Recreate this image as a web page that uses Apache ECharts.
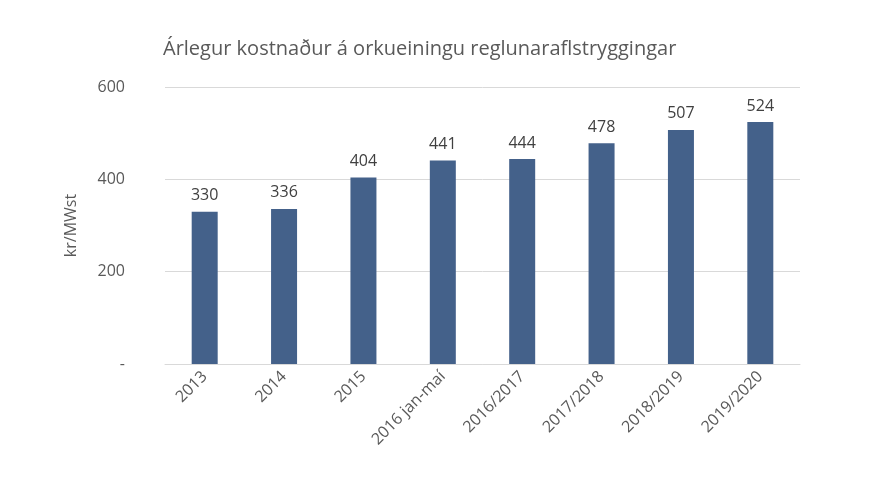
<!DOCTYPE html>
<html><head><meta charset="utf-8">
<script src="https://cdn.jsdelivr.net/npm/echarts@6/dist/echarts.min.js"></script>
<style>html,body{margin:0;padding:0;background:#fff}#c{width:890px;height:503px}</style>
</head><body><div id="c"></div>
<script>
const categories = ["2013","2014","2015","2016 jan-maí","2016/2017","2017/2018","2018/2019","2019/2020"];
const values = [330,336,404,441,444,478,507,524];
const yTicks = [0,200,400,600];
const chart = echarts.init(document.getElementById('c'));
chart.setOption({
  animation:false,
  title:{text:"Árlegur kostnaður á orkueiningu reglunaraflstryggingar",left:158,top:34,
    textStyle:{fontFamily:"Open Sans",fontSize:20,fontWeight:'normal',color:'#595959'}},
  grid:{left:165,right:90,top:87,bottom:139},
  xAxis:{type:'category',data:categories,
    axisLine:{lineStyle:{color:'#d9d9d9'}},axisTick:{show:false},
    axisLabel:{rotate:45,fontFamily:"Open Sans",fontSize:16,color:'#595959',interval:0,margin:10}},
  yAxis:{type:'value',min:0,max:600,interval:200,name:'kr/MWst',nameLocation:'middle',nameGap:86,
    nameTextStyle:{fontFamily:"Open Sans",fontSize:16,color:'#595959'},
    axisLine:{show:false},axisTick:{show:false},
    splitLine:{lineStyle:{color:'#d9d9d9'}},
    axisLabel:{fontFamily:"Open Sans",fontSize:16,color:'#595959',margin:40,
      formatter:v=>v===0?'-':String(v)}},
  series:[{type:'bar',data:values,barWidth:26,itemStyle:{color:'#44618a'},
    label:{show:true,position:'top',distance:8,fontFamily:"Open Sans",fontSize:16,color:'#404040'}}]
});
</script></body></html>
